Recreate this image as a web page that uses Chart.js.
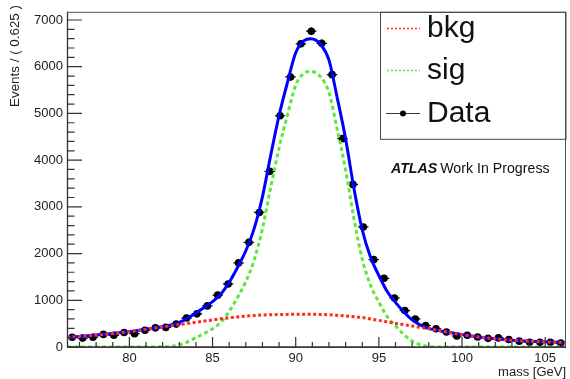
<!DOCTYPE html>
<html>
<head>
<meta charset="utf-8">
<script src="https://cdn.jsdelivr.net/npm/chart.js@4.4.1/dist/chart.umd.min.js"></script>
<style>
  html, body { margin: 0; padding: 0; background: #fff; }
  #wrap { width: 570px; height: 379px; }
</style>
</head>
<body>
<div id="wrap"><canvas id="massChart" width="570" height="379"></canvas></div>
<script>
// ----- DATA -----
// histogram bins (0.625 GeV wide), centres and counts
const binCenters = [
  76.5625, 77.1875, 77.8125, 78.4375, 79.0625, 79.6875, 80.3125, 80.9375,
  81.5625, 82.1875, 82.8125, 83.4375, 84.0625, 84.6875, 85.3125, 85.9375,
  86.5625, 87.1875, 87.8125, 88.4375, 89.0625, 89.6875, 90.3125, 90.9375,
  91.5625, 92.1875, 92.8125, 93.4375, 94.0625, 94.6875, 95.3125, 95.9375,
  96.5625, 97.1875, 97.8125, 98.4375, 99.0625, 99.6875, 100.3125, 100.9375,
  101.5625, 102.1875, 102.8125, 103.4375, 104.0625, 104.6875, 105.3125, 105.9375
]
const dataCounts = [
  210, 190, 210, 270, 250, 310, 285, 360, 410, 420,
  490, 620, 710, 880, 1110, 1350, 1800, 2240, 2880, 3760,
  4950, 5780, 6490, 6760, 6500, 5830, 4460, 3480, 2570, 1870,
  1470, 1050, 780, 600, 460, 390, 320, 235, 250, 215,
  185, 195, 160, 125, 100, 100, 100, 85
]
const binHalfWidth = 0.3125

// fit curves
const curveMass = [
  76.25, 77, 78, 79, 80, 81, 82, 82.5, 83, 83.5, 84, 84.5, 85, 85.5, 86, 86.5, 87,
  87.5, 88, 88.5, 89, 89.5, 90, 90.5, 90.9, 91.5, 92, 92.5, 93, 93.5, 94, 94.5, 95,
  95.5, 96, 96.5, 97, 97.5, 98, 99, 100, 101, 102, 103, 104, 105, 106.25
]
const bkgValues = [
  205, 225, 255, 290, 330, 380, 430, 455, 480, 505, 530, 555, 580, 603, 625, 643, 660,
  673, 685, 690, 695, 698, 700, 700, 700, 697, 690, 678, 665, 648, 630, 600, 570,
  538, 505, 478, 450, 420, 390, 325, 265, 215, 175, 145, 125, 110, 95
]
const sigValues = [
  0, 0, 0, 0, 0, 2, 5, 15, 45, 110, 200, 290, 390, 530, 760, 1060, 1400,
  1860, 2530, 3420, 4260, 4960, 5600, 5860, 5900, 5780, 5450, 4650, 3790, 2750, 1880, 1320, 960,
  650, 450, 270, 130, 50, 10, 0, 0, 0, 0, 0, 0, 0, 0
]
const totalValues = [
  205, 225, 255, 290, 330, 382, 435, 470, 525, 615, 730, 845, 970, 1133, 1385, 1703, 2060,
  2533, 3215, 4110, 4955, 5658, 6300, 6560, 6600, 6477, 6140, 5328, 4455, 3398, 2510, 1920, 1530,
  1188, 955, 748, 580, 470, 400, 325, 265, 215, 175, 145, 125, 110, 95
]

// axis ticks
const xMajorTicks = [80, 85, 90, 95, 100, 105]
const xMinorTicks = [77, 78, 79, 81, 82, 83, 84, 86, 87, 88, 89, 91, 92, 93, 94, 96, 97, 98, 99, 101, 102, 103, 104, 106]
const yMajorTicks = [0, 1000, 2000, 3000, 4000, 5000, 6000, 7000]
const yMinorStep = 200

const FONT = "'Liberation Sans', Arial, Helvetica, sans-serif"

const toPoints = (xs, ys) => xs.map((x, i) => ({ x, y: ys[i] }))

// ----- DECORATION (ROOT style frame, inside ticks, legend, labels) -----
const rootDecor = {
  id: 'rootDecor',
  beforeDatasetsDraw(chart) {
    const { ctx, scales: { x, y } } = chart
    ctx.save()
    ctx.strokeStyle = '#000'
    ctx.lineWidth = 1.2
    binCenters.forEach((m, i) => {
      const n = dataCounts[i]
      const err = Math.sqrt(n)
      const px = x.getPixelForValue(m)
      const py = y.getPixelForValue(n)
      ctx.beginPath()
      ctx.moveTo(x.getPixelForValue(m - binHalfWidth), py)
      ctx.lineTo(x.getPixelForValue(m + binHalfWidth), py)
      ctx.moveTo(px, y.getPixelForValue(n - err))
      ctx.lineTo(px, y.getPixelForValue(n + err))
      ctx.stroke()
    })
    ctx.restore()
  },
  afterDraw(chart) {
    const { ctx, chartArea: a, scales: { x, y } } = chart
    ctx.save()

    // frame
    ctx.strokeStyle = '#555'
    ctx.lineWidth = 1
    ctx.strokeRect(a.left + 0.5, a.top + 0.5, a.right - a.left - 1, a.bottom - a.top)
    ctx.strokeStyle = '#333'
    ctx.lineWidth = 1.3
    ctx.beginPath()
    ctx.moveTo(a.left, a.bottom); ctx.lineTo(a.right, a.bottom)
    ctx.moveTo(a.left + 0.5, a.top); ctx.lineTo(a.left + 0.5, a.bottom)
    ctx.stroke()

    // ticks, drawn inward
    ctx.lineWidth = 1.2
    ctx.beginPath()
    xMajorTicks.forEach((v) => {
      const px = x.getPixelForValue(v)
      ctx.moveTo(px, a.bottom); ctx.lineTo(px, a.bottom - 10)
    })
    xMinorTicks.forEach((v) => {
      const px = x.getPixelForValue(v)
      ctx.moveTo(px, a.bottom); ctx.lineTo(px, a.bottom - 5)
    })
    yMajorTicks.forEach((v) => {
      const py = y.getPixelForValue(v)
      ctx.moveTo(a.left, py); ctx.lineTo(a.left + 15, py)
    })
    for (let v = yMinorStep; v < y.max; v += yMinorStep) {
      if (v % 1000 === 0) continue
      const py = y.getPixelForValue(v)
      ctx.moveTo(a.left, py); ctx.lineTo(a.left + 7.5, py)
    }
    ctx.stroke()

    // axis titles
    ctx.fillStyle = '#222'
    ctx.font = `13px ${FONT}`
    ctx.textAlign = 'right'
    ctx.textBaseline = 'middle'
    ctx.fillText('mass [GeV]', 566, 372)
    ctx.save()
    ctx.translate(15, 5)
    ctx.rotate(-Math.PI / 2)
    ctx.font = `13.4px ${FONT}`
    ctx.fillText('Events / ( 0.625 )', 0, 0)
    ctx.restore()

    // legend box
    ctx.strokeStyle = '#444'
    ctx.lineWidth = 1
    ctx.strokeRect(380.5, a.top + 0.5, a.right - 380.5, 127)

    ctx.lineWidth = 1.5
    ctx.setLineDash([2, 2])
    ctx.strokeStyle = '#ff2a1a'
    ctx.beginPath(); ctx.moveTo(387, 28.5); ctx.lineTo(420, 28.5); ctx.stroke()
    ctx.strokeStyle = '#5ce83a'
    ctx.beginPath(); ctx.moveTo(387, 70.5); ctx.lineTo(420, 70.5); ctx.stroke()
    ctx.setLineDash([])
    ctx.strokeStyle = '#333'
    ctx.lineWidth = 1
    ctx.beginPath(); ctx.moveTo(386, 113.5); ctx.lineTo(420, 113.5); ctx.stroke()
    ctx.fillStyle = '#000'
    ctx.beginPath(); ctx.arc(403, 113.5, 3, 0, Math.PI * 2); ctx.fill()

    ctx.fillStyle = '#111'
    ctx.font = `30px ${FONT}`
    ctx.textAlign = 'left'
    ctx.textBaseline = 'alphabetic'
    ctx.fillText('bkg', 427, 37)
    ctx.fillText('sig', 427, 79)
    ctx.fillText('Data', 427, 122)

    // ATLAS label
    ctx.textBaseline = 'middle'
    ctx.font = `italic bold 14.2px ${FONT}`
    ctx.fillText('ATLAS', 391, 169.5)
    const atlasW = ctx.measureText('ATLAS').width
    ctx.font = `14.2px ${FONT}`
    ctx.fillText('Work In Progress', 391 + atlasW + 3, 169.5)

    ctx.restore()
  },
}

// ----- CHART -----
const tickFont = { family: FONT, size: 13 }

new Chart(document.getElementById('massChart').getContext('2d'), {
  type: 'scatter',
  data: {
    datasets: [
      {
        label: 'bkg',
        data: toPoints(curveMass, bkgValues),
        showLine: true,
        borderColor: '#ff2a1a',
        borderWidth: 3,
        borderDash: [3, 2.5],
        pointRadius: 0,
        cubicInterpolationMode: 'monotone',
        order: 0,
      },
      {
        label: 'sig',
        data: toPoints(curveMass, sigValues),
        showLine: true,
        borderColor: '#5ce83a',
        borderWidth: 3,
        borderDash: [4, 3],
        pointRadius: 0,
        cubicInterpolationMode: 'monotone',
        order: 1,
      },
      {
        label: 'total',
        data: toPoints(curveMass, totalValues),
        showLine: true,
        borderColor: '#0000ff',
        borderWidth: 3,
        pointRadius: 0,
        cubicInterpolationMode: 'monotone',
        order: 2,
      },
      {
        label: 'Data',
        data: toPoints(binCenters, dataCounts),
        showLine: false,
        pointRadius: 3.8,
        pointBackgroundColor: '#000',
        pointBorderColor: '#000',
        pointBorderWidth: 0,
        order: 3,
      },
    ],
  },
  options: {
    responsive: false,
    animation: false,
    events: [],
    layout: { padding: { top: 6, right: 3, left: 0, bottom: 0 } },
    plugins: { legend: { display: false }, tooltip: { enabled: false } },
    scales: {
      x: {
        type: 'linear',
        min: 76.25,
        max: 106.25,
        grid: { display: false, drawTicks: false },
        border: { display: false },
        afterBuildTicks: (s) => { s.ticks = xMajorTicks.map((v) => ({ value: v })) },
        ticks: {
          padding: 4,
          maxRotation: 0,
          autoSkip: false,
          color: '#222',
          font: tickFont,
          callback: (v) => String(v),
        },
        afterFit: (s) => { s.height = 32 },
      },
      y: {
        type: 'linear',
        min: 0,
        max: 7175,
        grid: { display: false, drawTicks: false },
        border: { display: false },
        afterBuildTicks: (s) => { s.ticks = yMajorTicks.map((v) => ({ value: v })) },
        ticks: {
          padding: 4,
          autoSkip: false,
          color: '#222',
          font: tickFont,
          callback: (v) => String(v),
        },
        afterFit: (s) => { s.width = 67 },
      },
    },
  },
  plugins: [rootDecor],
})
</script>
</body>
</html>
